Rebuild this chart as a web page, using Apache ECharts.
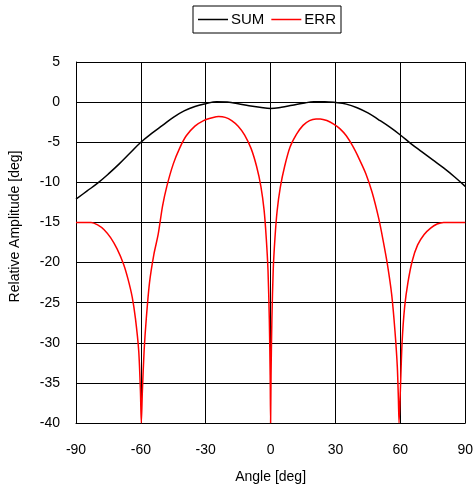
<!DOCTYPE html>
<html>
<head>
<meta charset="utf-8">
<script src="https://cdn.jsdelivr.net/npm/echarts@6/dist/echarts.min.js"></script>
<style>html,body{margin:0;padding:0;background:#fff}#c{width:476px;height:489px}</style>
</head>
<body>
<div id="c"></div>
<script>
const xTicks = [-90, -60, -30, 0, 30, 60, 90];
const yTicks = [5, 0, -5, -10, -15, -20, -25, -30, -35, -40];

const sumAngles = [-90,-85,-80,-75,-70,-65,-60,-55,-50,-45,-40,-35,-30,-25,-20,-15,-10,-5,0,5,10,15,20,25,30,35,40,45,50,55,60,65,70,75,80,85,90];
const sumValues = [-12.1,-11.1,-10.1,-8.95,-7.7,-6.35,-5.0,-3.9,-2.9,-1.9,-1.1,-0.55,-0.2,0.05,0.0,-0.2,-0.45,-0.65,-0.8,-0.65,-0.4,-0.15,0.05,0.05,-0.05,-0.25,-0.7,-1.35,-2.2,-3.1,-4.1,-5.2,-6.2,-7.2,-8.2,-9.3,-10.5];

const errAngles = [-90,-86,-83,-80,-77,-74,-71,-68,-66,-64,-62.5,-61,-60.2,-59.8,-59.3,-58.5,-57.5,-56,-54,-52,-50,-48,-45,-42,-39,-35,-31,-27,-24,-21,-18,-15,-12,-9,-6.5,-4.5,-3,-2,-1.2,-0.6,-0.2,0,0.2,0.6,1.2,2,3,4.5,6.5,9,12,15,18,21,23,26,29,32,35,38,41,44,47,50,52,54,56,57.5,58.6,59.1,59.4,60,60.8,62,63.5,65.5,68,71,74,77,80,85,90];
const errValues = [-15,-15,-15,-15.3,-15.9,-16.9,-18.3,-20.2,-22,-24.3,-27,-31,-36,-40,-36,-31,-27,-22.5,-19,-16.5,-13,-10.5,-7.7,-5.7,-4.2,-3,-2.3,-1.95,-1.8,-1.9,-2.3,-3,-4.1,-5.8,-8,-10.5,-13.5,-17,-21,-27,-34,-40,-34,-27,-21,-17,-13.6,-10.6,-8,-5.6,-4,-2.9,-2.3,-2.1,-2.1,-2.3,-2.7,-3.3,-4.2,-5.5,-7.1,-8.9,-11.3,-14.5,-17.2,-20.2,-24,-28.5,-33,-37,-40,-36,-30,-25.5,-22.5,-19.8,-17.8,-16.5,-15.7,-15.2,-15,-15,-15];

const zip = (a, b) => a.map((v, i) => [v, b[i]]);
const FONT = 'Liberation Sans, Arial, sans-serif';

const chart = echarts.init(document.getElementById('c'), null, {renderer: 'canvas'});
chart.setOption({
  animation: false,
  backgroundColor: '#fff',
  textStyle: {fontFamily: FONT},
  legend: {
    left: 193, top: 6,
    padding: [6, 5, 6, 5],
    borderColor: '#000', borderWidth: 1,
    icon: 'rect',
    itemWidth: 30, itemHeight: 1.5, itemGap: 7,
    textStyle: {fontSize: 15, color: '#000', fontFamily: FONT, padding: [0, 0, 0, -2]},
    data: ['SUM', 'ERR']
  },
  grid: {left: 73, right: 9, top: 62, bottom: 66, containLabel: false},
  xAxis: {
    type: 'value', min: xTicks[0], max: xTicks[xTicks.length - 1], interval: 30,
    name: 'Angle [deg]', nameLocation: 'middle', nameGap: 47,
    nameTextStyle: {fontSize: 14, color: '#000', fontFamily: FONT},
    axisLine: {show: true, onZero: false, lineStyle: {color: '#000', width: 1}},
    axisTick: {show: false},
    axisLabel: {fontSize: 14, color: '#000', margin: 20, fontFamily: FONT},
    splitLine: {show: true, lineStyle: {color: '#000', width: 1}}
  },
  yAxis: {
    type: 'value', min: yTicks[yTicks.length - 1], max: yTicks[0], interval: 5,
    name: 'Relative Amplitude [deg]', nameLocation: 'middle', nameGap: 54,
    nameTextStyle: {fontSize: 14, color: '#000', fontFamily: FONT, padding: [0, 0, 0, 32]},
    axisLine: {show: true, onZero: false, lineStyle: {color: '#000', width: 1}},
    axisTick: {show: false},
    axisLabel: {fontSize: 14, color: '#000', margin: 16, fontFamily: FONT},
    splitLine: {show: true, lineStyle: {color: '#000', width: 1}}
  },
  series: [
    {name: 'SUM', type: 'line', data: zip(sumAngles, sumValues), smooth: 0.4, symbol: 'none',
     lineStyle: {color: '#000', width: 1.5}, itemStyle: {color: '#000'}},
    {name: 'ERR', type: 'line', data: zip(errAngles, errValues), smooth: 0.25, symbol: 'none',
     lineStyle: {color: '#ff0000', width: 1.5}, itemStyle: {color: '#ff0000'}}
  ]
});
</script>
</body>
</html>
